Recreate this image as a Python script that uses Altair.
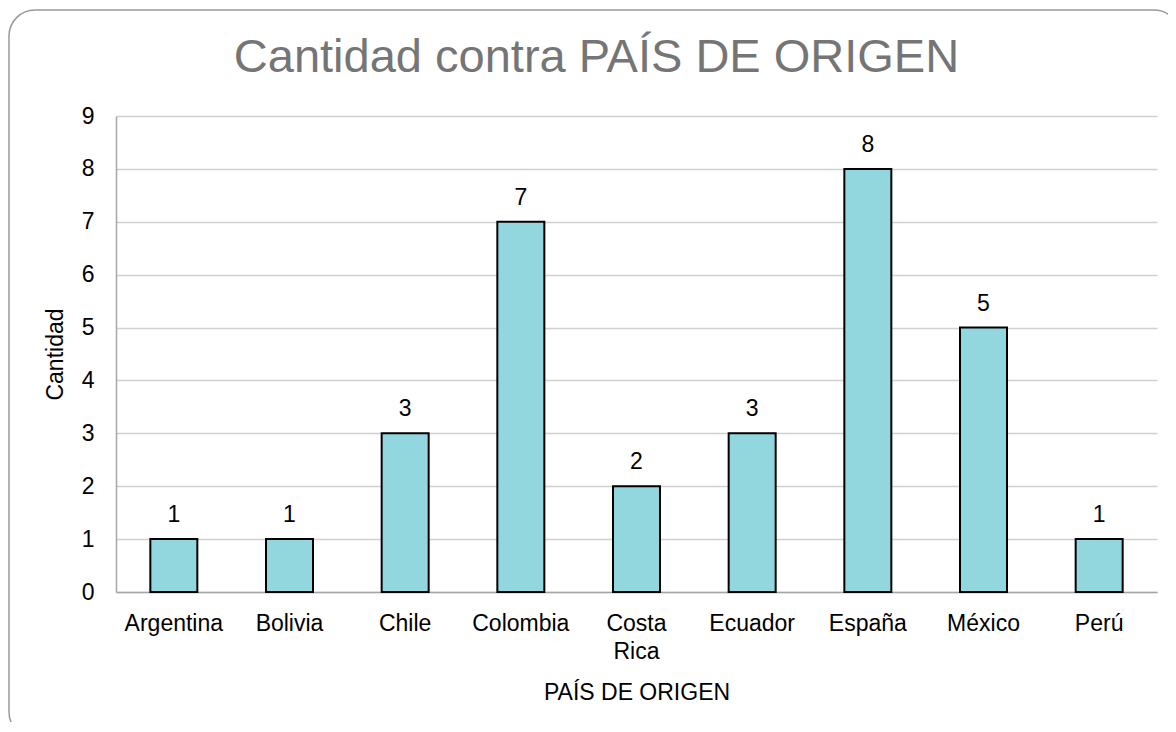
import altair as alt
import pandas as pd

paises = ["Argentina", "Bolivia", "Chile", "Colombia", "Costa Rica",
          "Ecuador", "España", "México", "Perú"]
cantidad = [1, 1, 3, 7, 2, 3, 8, 5, 1]

df = pd.DataFrame({"PAÍS DE ORIGEN": paises, "Cantidad": cantidad})

FONT = "Liberation Sans"
W, H = 1041, 476

base = alt.Chart(df).encode(
    x=alt.X("PAÍS DE ORIGEN:N", sort=paises,
            scale=alt.Scale(paddingInner=0, paddingOuter=0),
            axis=alt.Axis(labelAngle=0, labelExpr="split(datum.label, ' ')",
                          labelFontSize=23, labelLineHeight=28, labelPadding=20,
                          labelColor="black", ticks=False,
                          domainColor="#A6A6A6", domainWidth=1.5,
                          titleFontSize=23, titleFontWeight="normal",
                          titleColor="black", titlePadding=18, grid=False)),
    y=alt.Y("Cantidad:Q", scale=alt.Scale(domain=[0, 9], nice=False),
            axis=alt.Axis(values=list(range(10)), labelFontSize=23,
                          labelColor="black", labelPadding=22, ticks=False,
                          domainColor="#A6A6A6", domainWidth=1.5,
                          gridColor="#D0D0D0", gridWidth=1.5,
                          titleFontSize=23, titleFontWeight="normal",
                          titleColor="black", titlePadding=14)),
)

bars = base.mark_bar(size=47, color="#92D6DE", stroke="black", strokeWidth=2)
labels = base.mark_text(baseline="alphabetic", dy=-17, fontSize=23,
                        font=FONT, color="black").encode(text="Cantidad:Q")

frame = alt.Chart(alt.Data(values=[{}])).mark_rect(
    fill=None, stroke="#9A9A9A", strokeWidth=1.5, cornerRadius=26
).encode(
    x=alt.value(-107), x2=alt.value(1064),
    y=alt.value(-106), y2=alt.value(622),
)

chart = alt.layer(frame, bars, labels).properties(
    width=W, height=H,
    title=alt.TitleParams("Cantidad contra PAÍS DE ORIGEN", fontSize=47,
                          font=FONT, fontWeight="normal", color="#757575",
                          anchor="middle", dx=-40, offset=-73),
    autosize=alt.AutoSizeParams(type="none"),
    padding={"left": 108, "top": 108, "right": 11, "bottom": 130},
).configure(font=FONT).configure_view(stroke=None).configure_axis(
    labelFont=FONT, titleFont=FONT)

chart.save("out.html", embed_options={"renderer": "svg", "actions": False})
